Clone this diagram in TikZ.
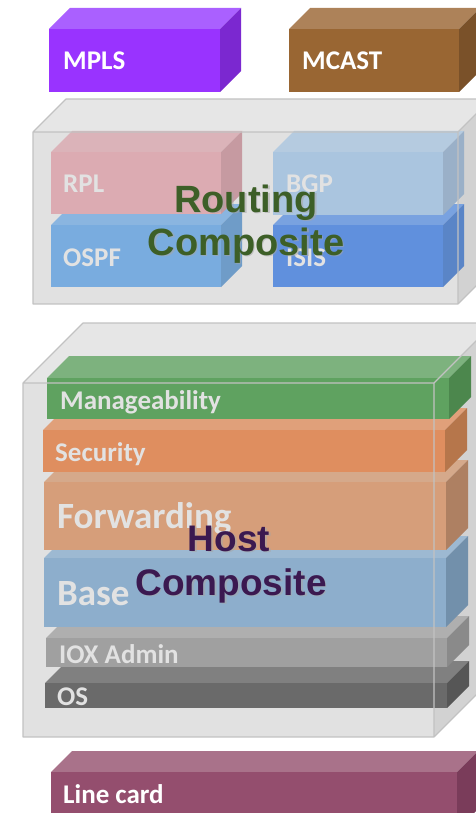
\documentclass[tikz,border=0pt]{standalone}
\usepackage{fontspec}
\setmainfont{Carlito}
\newfontfamily\headfont{Liberation Sans}

% face colours of the blocks
\definecolor{mplsF}{HTML}{9933FF}\definecolor{mplsT}{HTML}{AA60FF}\definecolor{mplsS}{HTML}{7B28D0}
\definecolor{mcastF}{HTML}{996633}\definecolor{mcastT}{HTML}{AD8259}\definecolor{mcastS}{HTML}{7A5129}
\definecolor{rplF}{HTML}{DCABB2}\definecolor{rplT}{HTML}{DBB3B9}\definecolor{rplS}{HTML}{C69AA1}
\definecolor{ospfF}{HTML}{79ACDF}\definecolor{ospfT}{HTML}{8AB5E0}\definecolor{ospfS}{HTML}{6F9CC8}
\definecolor{bgpF}{HTML}{AAC5DF}\definecolor{bgpT}{HTML}{B5CBE0}\definecolor{bgpS}{HTML}{9AB0C8}
\definecolor{isisF}{HTML}{6090DD}\definecolor{isisT}{HTML}{79A2E0}\definecolor{isisS}{HTML}{5A85C7}
\definecolor{mgmtF}{HTML}{5FA260}\definecolor{mgmtT}{HTML}{7DB27E}\definecolor{mgmtS}{HTML}{4C874D}
\definecolor{secF}{HTML}{DF8E5F}\definecolor{secT}{HTML}{E0A07A}\definecolor{secS}{HTML}{B6764B}
\definecolor{fwdF}{HTML}{D69E7A}\definecolor{fwdT}{HTML}{D5A98B}\definecolor{fwdS}{HTML}{AE8062}
\definecolor{baseF}{HTML}{8DAECC}\definecolor{baseT}{HTML}{9DB9D2}\definecolor{baseS}{HTML}{7290AB}
\definecolor{ioxF}{HTML}{A0A0A0}\definecolor{ioxT}{HTML}{AFAFAF}\definecolor{ioxS}{HTML}{8A8A8A}
\definecolor{osF}{HTML}{6A6A6A}\definecolor{osT}{HTML}{808080}\definecolor{osS}{HTML}{565656}
\definecolor{lcF}{HTML}{944E6E}\definecolor{lcT}{HTML}{A9728A}\definecolor{lcS}{HTML}{7A3C5A}
% composite containers
\definecolor{boxFront}{HTML}{E1E1E1}\definecolor{boxTop}{HTML}{E6E6E6}
\definecolor{boxSide}{HTML}{D2D2D2}\definecolor{boxEdge}{HTML}{C2C2C2}
\definecolor{innerText}{HTML}{E2E2E2}
\definecolor{routeText}{HTML}{3D5F27}\definecolor{hostText}{HTML}{3B1950}

% \slab{x1}{y1}{x2}{y2}{depth}{front}{top}{side}: a box seen from front-right-above
\newcommand\slab[8]{%
  \fill[#7] (#1,#2) -- (#1+#5,#2-#5) -- (#3+#5,#2-#5) -- (#3,#2) -- cycle;
  \fill[#8] (#3,#2) -- (#3+#5,#2-#5) -- (#3+#5,#4-#5) -- (#3,#4) -- cycle;
  \fill[#6] (#1,#2) rectangle (#3,#4);}
% \contfill / \contedge: translucent composite container, faces and edges
\newcommand\contfill[5]{%
  \fill[boxTop] (#1,#2) -- (#1+#5,#2-#5) -- (#3+#5,#2-#5) -- (#3,#2) -- cycle;
  \fill[boxSide] (#3,#2) -- (#3+#5,#2-#5) -- (#3+#5,#4-#5) -- (#3,#4) -- cycle;
  \fill[boxFront] (#1,#2) rectangle (#3,#4);}
\newcommand\contedge[5]{%
  \draw[boxEdge, line width=1.1pt, line join=round]
    (#1,#2) -- (#1+#5,#2-#5) -- (#3+#5,#2-#5) -- (#3,#2)
    (#3+#5,#2-#5) -- (#3+#5,#4-#5) -- (#3,#4)
    (#1,#2) rectangle (#3,#4);}

\tikzset{
  lbl/.style={anchor=base west, inner sep=0pt, font=\bfseries\fontsize{27}{32}\selectfont},
  biglbl/.style={lbl, font=\bfseries\fontsize{37}{44}\selectfont},
  title/.style={anchor=base, inner sep=0pt, font=\headfont\bfseries\fontsize{38}{44}\selectfont},
  shade/.style={title, text=gray!70, opacity=0.55}
}

\begin{document}
\begin{tikzpicture}[x=1pt, y=-1pt]
\useasboundingbox (0,0) rectangle (476,813);
\clip (0,0) rectangle (476,813);

% top-level modules
\slab{49}{29}{220}{92}{21}{mplsF}{mplsT}{mplsS}
\slab{289}{29}{459}{92}{21}{mcastF}{mcastT}{mcastS}
\node[lbl, text=white] (mpls) at (63,70) {MPLS};
\node[lbl, text=white] (mcast) at (302,70) {MCAST};

% routing composite
\contfill{33}{132}{458}{304}{33}
\slab{51}{225}{221}{287}{21}{ospfF}{ospfT}{ospfS}
\slab{51}{152}{221}{214}{21}{rplF}{rplT}{rplS}
\slab{273}{225}{443}{287}{21}{isisF}{isisT}{isisS}
\slab{273}{152}{443}{215}{21}{bgpF}{bgpT}{bgpS}
\contedge{33}{132}{458}{304}{33}
\node[lbl, text=innerText] (rpl) at (63,193) {RPL};
\node[lbl, text=innerText] (ospf) at (63,266) {OSPF};
\node[lbl, text=innerText] (bgp) at (286,193) {BGP};
\node[lbl, text=innerText] (isis) at (286,266) {ISIS};
\node[shade] at (247.5,213.5) {Routing};
\node[shade] at (247.5,256.5) {Composite};
\node[title, text=routeText] (routing1) at (246,212) {Routing};
\node[title, text=routeText] (routing2) at (246,255) {Composite};

% host composite
\contfill{23}{383}{434}{737}{60}
\slab{45}{683}{447}{708}{22}{osF}{osT}{osS}
\slab{46}{638}{447}{667}{22}{ioxF}{ioxT}{ioxS}
\slab{44}{558}{446}{627}{22}{baseF}{baseT}{baseS}
\slab{44}{482}{446}{550}{22}{fwdF}{fwdT}{fwdS}
\slab{43}{430}{445}{472}{22}{secF}{secT}{secS}
\slab{47}{378}{449}{419}{22}{mgmtF}{mgmtT}{mgmtS}
\contedge{23}{383}{434}{737}{60}
\node[lbl, text=innerText] (mgmt) at (60,409) {Manageability};
\node[lbl, text=innerText] (sec) at (55,461) {Security};
\node[biglbl, text=innerText] (fwd) at (57,528) {Forwarding};
\node[biglbl, text=innerText] (base) at (57,605) {Base};
\node[lbl, text=innerText] (iox) at (59,663) {IOX Admin};
\node[lbl, text=innerText] (os) at (57,705) {OS};
\node[shade, font=\headfont\bfseries\fontsize{37}{44}\selectfont] at (230.5,552.5) {Host};
\node[shade, font=\headfont\bfseries\fontsize{37}{44}\selectfont] at (232.5,596.5) {Composite};
\node[title, text=hostText, font=\headfont\bfseries\fontsize{37}{44}\selectfont] (host1) at (229,551) {Host};
\node[title, text=hostText, font=\headfont\bfseries\fontsize{37}{44}\selectfont] (host2) at (231,595) {Composite};

% line card
\slab{51}{772}{457}{830}{21}{lcF}{lcT}{lcS}
\node[lbl, text=white] (lc) at (63,803) {Line card};
\end{tikzpicture}
\end{document}
